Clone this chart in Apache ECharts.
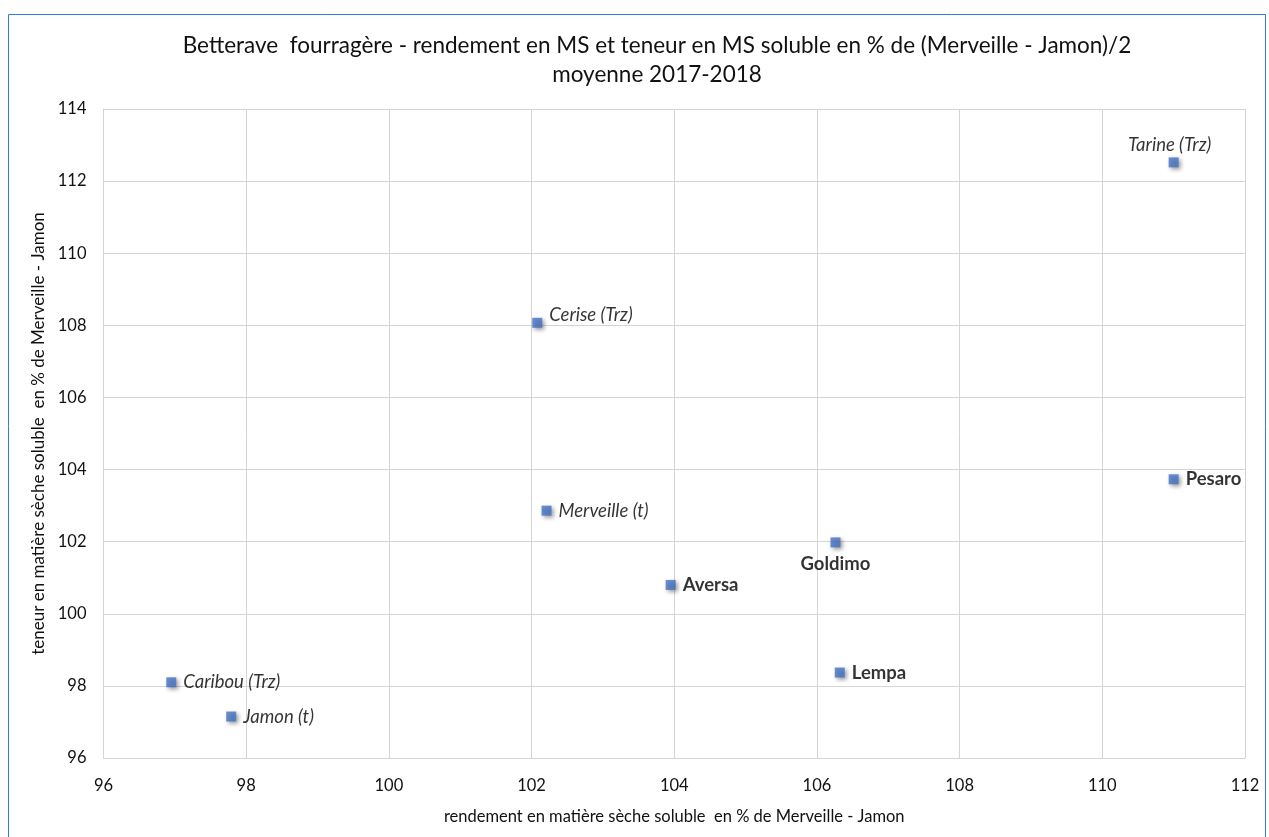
<!DOCTYPE html>
<html>
<head>
<meta charset="utf-8">
<script src="https://cdn.jsdelivr.net/npm/echarts@6/dist/echarts.min.js"></script>
<style>
  html, body { margin: 0; padding: 0; background: #fff; }
  #chart { width: 1269px; height: 837px; }
</style>
</head>
<body>
<div id="chart"></div>
<script>
// varieties, rendement (x) and teneur (y) in % de (Merveille - Jamon)/2
const names = ['Tarine (Trz)', 'Cerise (Trz)', 'Pesaro', 'Merveille (t)', 'Goldimo', 'Aversa', 'Lempa', 'Caribou (Trz)', 'Jamon (t)']
const rendement = [111.0, 102.08, 111.0, 102.21, 106.26, 103.95, 106.32, 96.95, 97.79]
const teneur = [112.52, 108.07, 103.73, 102.86, 101.98, 100.8, 98.37, 98.1, 97.15]
// labels of témoins / Trz varieties in italic, others bold
const italic = [true, true, false, true, false, false, false, true, true]
const labelPos = ['top', 'right', 'right', 'right', 'bottom', 'right', 'right', 'right', 'right']

const font = 'Lato, "Open Sans", sans-serif'

const chart = echarts.init(document.getElementById('chart'))

const points = names.map((n, i) => ({
    name: n,
    value: [rendement[i], teneur[i]],
    label: {
        position: labelPos[i],
        fontStyle: italic[i] ? 'italic' : 'normal',
        fontWeight: italic[i] ? 'normal' : 'bold',
        offset: i === 1 ? [0, -8] : (i === 0 ? [-4, 4] : [0, 0])
    }
}))

const option = {
    animation: false,
    textStyle: { fontFamily: font },
    graphic: [{
        type: 'rect',
        shape: { x: 8.5, y: 14.5, width: 1257, height: 840 },
        style: { fill: 'none', stroke: '#2E80D0', lineWidth: 1 },
        silent: true
    }],
    title: {
        text: 'Betterave  fourragère - rendement en MS et teneur en MS soluble en % de (Merveille - Jamon)/2\nmoyenne 2017-2018',
        left: 652,
        textAlign: 'center',
        top: 26,
        textStyle: { fontFamily: font, fontSize: 22.5, fontWeight: 'normal', color: '#111', lineHeight: 29 }
    },
    grid: {
        left: 103.5,
        right: 24,
        top: 109,
        bottom: 79
    },
    xAxis: {
        type: 'value',
        min: 96,
        max: 112,
        interval: 2,
        name: 'rendement en matière sèche soluble  en % de Merveille - Jamon',
        nameLocation: 'middle',
        nameGap: 50,
        nameTextStyle: { fontSize: 16.5, color: '#111' },
        axisLine: { lineStyle: { color: '#d4d4d4' } },
        axisTick: { show: false },
        axisLabel: { fontSize: 16.5, color: '#111', margin: 19 },
        splitLine: { lineStyle: { color: '#d4d4d4' } }
    },
    yAxis: {
        type: 'value',
        min: 96,
        max: 114,
        interval: 2,
        name: 'teneur en matière sèche soluble  en % de Merveille - Jamon',
        nameLocation: 'middle',
        nameGap: 51,
        nameTextStyle: { fontSize: 17, color: '#111' },
        axisLine: { show: true, lineStyle: { color: '#d4d4d4' } },
        axisTick: { show: false },
        axisLabel: { fontSize: 16.5, color: '#111', margin: 17 },
        splitLine: { lineStyle: { color: '#d4d4d4' } }
    },
    series: [
        {
            type: 'scatter',
            symbol: 'rect',
            symbolSize: 10,
            itemStyle: {
                color: '#4472C4',
                shadowColor: 'rgba(0,0,0,0.5)',
                shadowBlur: 4,
                shadowOffsetX: 2,
                shadowOffsetY: 2
            },
            label: {
                show: true,
                formatter: '{b}',
                fontSize: 18.5,
                color: '#000',
                distance: 7
            },
            data: points
        }
    ]
}

chart.setOption(option)
</script>
</body>
</html>
